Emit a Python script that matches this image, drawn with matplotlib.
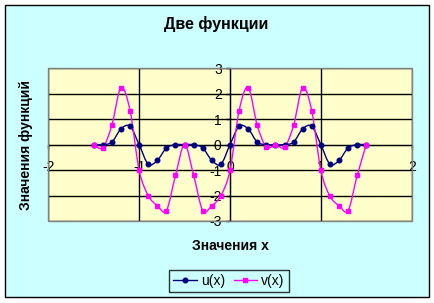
import numpy as np
import matplotlib.pyplot as plt
from matplotlib.patches import Rectangle, PathPatch
from matplotlib.path import Path
from matplotlib.lines import Line2D

plt.rcParams['font.family'] = ['Liberation Sans', 'DejaVu Sans']
plt.rcParams['axes.unicode_minus'] = False

# data, x step 0.1
x = [-1.5, -1.4, -1.3, -1.2, -1.1, -1.0, -0.9, -0.8, -0.7, -0.6, -0.5,
     -0.4, -0.3, -0.2, -0.1, 0.0, 0.1, 0.2, 0.3, 0.4, 0.5,
     0.6, 0.7, 0.8, 0.9, 1.0, 1.1, 1.2, 1.3, 1.4, 1.5]
u = [0.0, 0.0, 0.10, 0.62, 0.72, 0.0, -0.77, -0.62, -0.13, 0.0, 0.0,
     0.0, -0.13, -0.62, -0.77, 0.0, 0.72, 0.62, 0.10, 0.0, 0.0,
     0.0, 0.10, 0.62, 0.72, 0.0, -0.77, -0.62, -0.13, 0.0, 0.0]
v = [0.0, -0.12, 0.77, 2.24, 1.34, -1.01, -2.0, -2.40, -2.59, -1.21, 0.0,
     -1.21, -2.59, -2.40, -2.0, -1.01, 1.33, 2.24, 0.76, -0.10, 0.0,
     -0.10, 0.76, 2.24, 1.33, -1.01, -2.02, -2.40, -2.59, -1.21, 0.0]


def smooth_path(xs, ys):
    # Excel-like smoothed line: bezier segments through the points
    p = np.column_stack([xs, ys])
    q = np.vstack([p[:1], p, p[-1:]])
    verts = [p[0]]
    codes = [Path.MOVETO]
    for i in range(len(p) - 1):
        c1 = q[i + 1] + (q[i + 2] - q[i]) / 6
        c2 = q[i + 2] - (q[i + 3] - q[i + 1]) / 6
        verts += [c1, c2, q[i + 2]]
        codes += [Path.CURVE4] * 3
    return Path(verts, codes)


W, H = 435, 303
fig = plt.figure(figsize=(W / 100, H / 100), dpi=100)
fig.patch.set_facecolor('white')

# chart area
fig.patches.append(Rectangle((5 / W, 1 - 297 / H), 424 / W, 292 / H,
                             transform=fig.transFigure, facecolor='#CCFFFF',
                             edgecolor='black', lw=1, zorder=-1))

ax = fig.add_axes([48.3 / W, 1 - 221 / H, 363.4 / W, 152.7 / H])
ax.set_zorder(1)
ax.set_facecolor('#FFFFCC')
ax.set_xlim(-2, 2)
ax.set_ylim(-3, 3)

for s in ['top', 'right']:
    ax.spines[s].set_visible(False)
ax.spines['left'].set_position(('data', 0))
ax.spines['bottom'].set_position(('data', 0))
ax.spines['left'].set_zorder(3)
ax.spines['bottom'].set_zorder(3)
ax.add_patch(Rectangle((0, 0), 1, 1, transform=ax.transAxes, fill=False,
                       edgecolor='#808080', lw=1, zorder=4, clip_on=False))

ax.set_xticks([-2, -1, 0, 1, 2])
ax.set_yticks([-3, -2, -1, 0, 1, 2, 3])
ax.grid(True, color='black', lw=1)
ax.set_axisbelow(True)
ax.tick_params(axis='both', labelsize=10, length=3, width=1, color='black')
ax.tick_params(axis='x', pad=8)
ax.tick_params(axis='y', pad=3)

series = [('u(x)', u, '#000080', 'o'), ('v(x)', v, '#FF00FF', 's')]
handles = []
for name, ys, col, mk in series:
    ax.add_patch(PathPatch(smooth_path(x, ys), facecolor='none', edgecolor=col,
                           lw=1, zorder=5))
    ax.plot(x, ys, ls='none', color=col, marker=mk, ms=3.3, zorder=6)
    handles.append(Line2D([], [], color=col, lw=1, marker=mk, ms=3.3, label=name))

fig.text(0.496, 1 - 24 / H, 'Две функции', ha='center', va='center',
         fontsize=11.5, fontweight='bold')
fig.text(26.5 / W, 1 - 145 / H, 'Значения функций', ha='center', va='center',
         rotation=90, fontsize=10, fontweight='bold')
fig.text(230 / W, 1 - 246 / H, 'Значения x', ha='center', va='center',
         fontsize=10, fontweight='bold')

leg = fig.legend(handles=handles, loc='center', bbox_to_anchor=(229 / W, 1 - 281 / H),
                 ncol=2, fontsize=10, frameon=True, fancybox=False,
                 handlelength=1.7, columnspacing=0.6, handletextpad=0.3,
                 borderpad=0.3, borderaxespad=0)
leg.get_frame().set_edgecolor('black')
leg.get_frame().set_facecolor('#CCFFFF')
leg.get_frame().set_linewidth(1)

fig.savefig('out.png', dpi=100)
